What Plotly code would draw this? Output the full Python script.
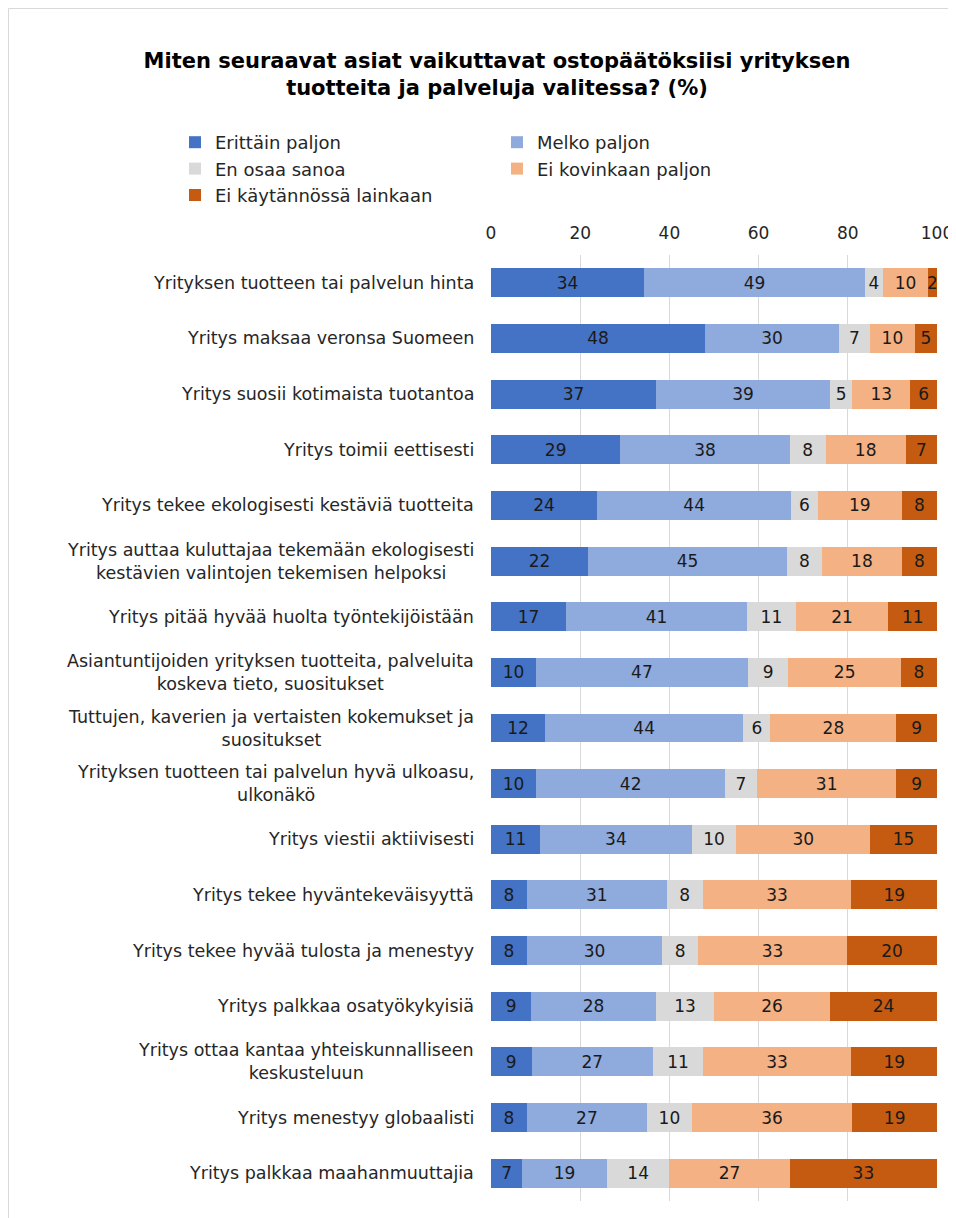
import plotly.graph_objects as go

# kategoriat ylhäältä alas
kategoriat = [
    "Yrityksen tuotteen tai palvelun hinta",
    "Yritys maksaa veronsa Suomeen",
    "Yritys suosii kotimaista tuotantoa",
    "Yritys toimii eettisesti",
    "Yritys tekee ekologisesti kestäviä tuotteita",
    "Yritys auttaa kuluttajaa tekemään ekologisesti<br>kestävien valintojen tekemisen helpoksi",
    "Yritys pitää hyvää huolta työntekijöistään",
    "Asiantuntijoiden yrityksen tuotteita, palveluita<br>koskeva tieto, suositukset",
    "Tuttujen, kaverien ja vertaisten kokemukset ja<br>suositukset",
    "Yrityksen tuotteen tai palvelun hyvä ulkoasu,<br>ulkonäkö",
    "Yritys viestii aktiivisesti",
    "Yritys tekee hyväntekeväisyyttä",
    "Yritys tekee hyvää tulosta ja menestyy",
    "Yritys palkkaa osatyökykyisiä",
    "Yritys ottaa kantaa yhteiskunnalliseen<br>keskusteluun",
    "Yritys menestyy globaalisti",
    "Yritys palkkaa maahanmuuttajia",
]

erittain_paljon = [34, 48, 37, 29, 24, 22, 17, 10, 12, 10, 11, 8, 8, 9, 9, 8, 7]
melko_paljon = [49, 30, 39, 38, 44, 45, 41, 47, 44, 42, 34, 31, 30, 28, 27, 27, 19]
en_osaa_sanoa = [4, 7, 5, 8, 6, 8, 11, 9, 6, 7, 10, 8, 8, 13, 11, 10, 14]
ei_kovinkaan = [10, 10, 13, 18, 19, 18, 21, 25, 28, 31, 30, 33, 33, 26, 33, 36, 27]
ei_lainkaan = [2, 5, 6, 7, 8, 8, 11, 8, 9, 9, 15, 19, 20, 24, 19, 19, 33]

sarjat = [
    ("Erittäin paljon", erittain_paljon, "#4472C4"),
    ("Melko paljon", melko_paljon, "#8FAADC"),
    ("En osaa sanoa", en_osaa_sanoa, "#D9D9D9"),
    ("Ei kovinkaan paljon", ei_kovinkaan, "#F4B183"),
    ("Ei käytännössä lainkaan", ei_lainkaan, "#C55A11"),
]

FONT = "DejaVu Sans, Arial, sans-serif"

# sivulla on 8 px marginaali, joten kuva on sen verran pienempi
W, H = 948, 1210
L, R, T, B = 483, 19, 247, 17
pw, ph = W - L - R, H - T - B

fig = go.Figure()
for nimi, arvot, vari in sarjat:
    fig.add_trace(go.Bar(
        y=kategoriat, x=arvot, name=nimi, orientation="h",
        marker=dict(color=vari, line=dict(width=0)),
        text=[str(v) for v in arvot], textposition="inside",
        insidetextanchor="middle", textangle=0,
        textfont=dict(color="#1a1a1a", size=17, family=FONT),
    ))

# vasemman puolen selitteet keskitettyinä
for k in kategoriat:
    fig.add_annotation(
        x=-15 / pw, xref="paper", y=k, yref="y",
        text=k, showarrow=False, xanchor="right", yanchor="middle",
        align="center", font=dict(size=17.5, color="#262626", family=FONT),
    )

# kehys
fig.add_shape(
    type="rect", xref="paper", yref="paper",
    x0=(0.5 - L) / pw, x1=(W + 5 - L) / pw,
    y0=-(B + 5) / ph, y1=1 + (T - 0.5) / ph,
    line=dict(color="#D9D9D9", width=1), layer="below",
)

fig.update_layout(
    width=W, height=H,
    margin=dict(l=L, r=R, t=T, b=B, autoexpand=False),
    barmode="stack", barnorm="percent", bargap=0.48,
    plot_bgcolor="white", paper_bgcolor="white",
    font=dict(family=FONT, color="#262626"),
    uniformtext=dict(minsize=17, mode="show"),
    title=dict(
        text="Miten seuraavat asiat vaikuttavat ostopäätöksiisi yrityksen<br>tuotteita ja palveluja valitessa? (%)",
        x=489 / W, xanchor="center", xref="container",
        y=1 - 60 / H, yanchor="top", yref="container",
        font=dict(size=21, color="black", family=FONT, weight="bold"),
    ),
    legend=dict(
        orientation="h", entrywidth=277, entrywidthmode="pixels",
        x=(167 - L) / pw, xanchor="left",
        y=1 + (T - 116) / ph, yanchor="top",
        font=dict(size=18, color="#262626", family=FONT),
        traceorder="normal",
    ),
    showlegend=True,
)

fig.update_xaxes(
    side="top", range=[0, 100], tickvals=[0, 20, 40, 60, 80, 100],
    showgrid=True, gridcolor="#D9D9D9", gridwidth=1, zeroline=False,
    showline=False, ticks="", tickfont=dict(size=17, color="#262626", family=FONT),
    ticklabelstandoff=12, automargin=False,
)
fig.update_yaxes(
    autorange="reversed", showticklabels=False, showgrid=False,
    showline=False, ticks="", automargin=False,
)

fig.write_html("out.html")
